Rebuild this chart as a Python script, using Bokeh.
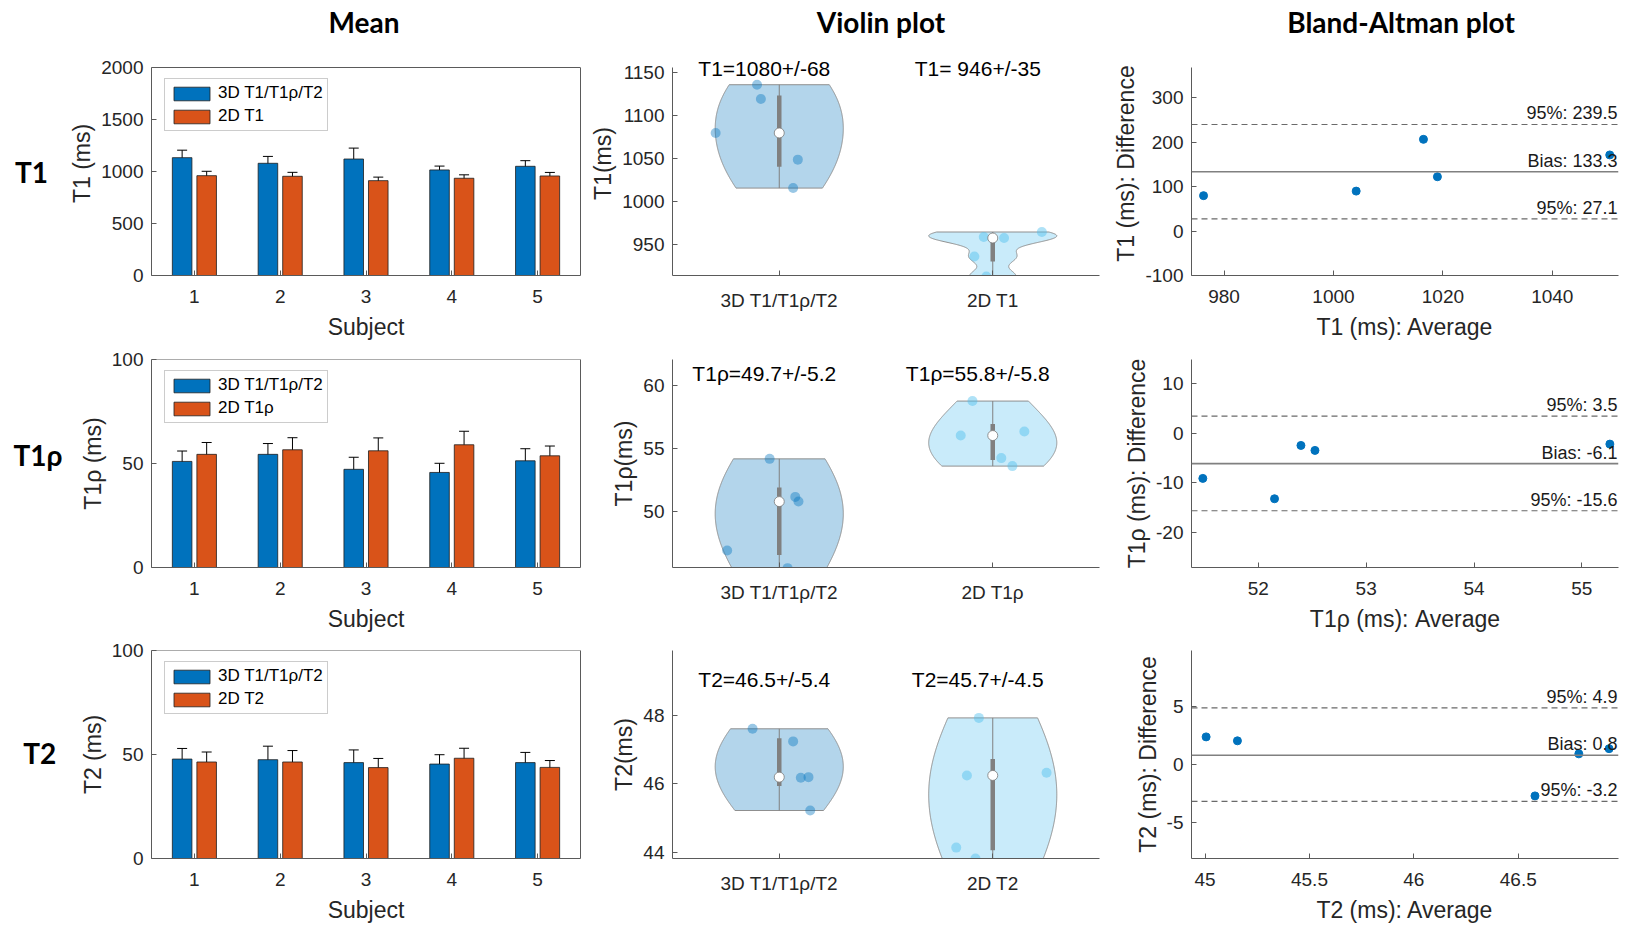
import numpy as np
from bokeh.plotting import figure
from bokeh.layouts import row, column
from bokeh.models import (Range1d, FixedTicker, Whisker, ColumnDataSource, Span,
                          Label, TeeHead, LinearAxis)
from bokeh.core.properties import value
from bokeh.embed import file_html
from bokeh.resources import INLINE

# ---------------- data ----------------
subjects = [1, 2, 3, 4, 5]
subject_tick_labels = ["1", "2", "3", "4", "5"]
row_names = ["T1", "T1ρ", "T2"]
col_titles = ["Mean", "Violin plot", "Bland-Altman plot"]
series_3d = "3D T1/T1ρ/T2"

# Mean panel (bars): per-subject mean and SD
t1_mean_3d = [1133, 1079, 1120, 1015, 1050]
t1_sd_3d = [72, 66, 105, 37, 54]
t1_mean_2d = [960, 954, 912, 935, 957]
t1_sd_2d = [42, 38, 34, 33, 34]
t1rho_mean_3d = [51.0, 54.4, 47.2, 45.7, 51.3]
t1rho_sd_3d = [5.0, 5.2, 5.8, 4.4, 5.8]
t1rho_mean_2d = [54.4, 56.6, 56.1, 59.0, 53.7]
t1rho_sd_2d = [5.7, 5.8, 6.2, 6.5, 4.7]
t2_mean_3d = [47.8, 47.5, 46.1, 45.4, 46.1]
t2_sd_3d = [5.1, 6.5, 6.1, 4.5, 4.9]
t2_mean_2d = [46.4, 46.4, 43.7, 48.2, 43.8]
t2_sd_2d = [4.8, 5.5, 4.4, 4.8, 3.3]

# Violin / Bland-Altman panels: per-subject values (paired)
t1_vals_3d = [1136, 1080, 1119.5, 1016, 1049]
t1_vals_2d = [965, 958, 913.4, 936.5, 959.3]
t1rho_vals_3d = [50.81, 54.18, 46.95, 45.56, 51.18]
t1rho_vals_2d = [54.24, 56.34, 56.02, 58.74, 53.61]
t2_vals_3d = [47.62, 47.25, 46.2, 45.22, 46.18]
t2_vals_2d = [46.25, 46.33, 43.81, 47.94, 44.13]

# horizontal jitter of the scatter points inside the violins (category units)
t1_jit_3d = [-0.104, -0.298, -0.086, 0.065, 0.087]
t1_jit_2d = [0.23, 0.053, -0.03, -0.086, -0.042]
t1rho_jit_3d = [0.09, -0.045, -0.244, 0.039, 0.075]
t1rho_jit_2d = [0.04, 0.148, -0.15, -0.095, 0.092]
t2_jit_3d = [-0.125, 0.065, 0.137, 0.145, 0.101]
t2_jit_2d = [-0.121, 0.252, -0.081, -0.065, -0.171]

t1_violin_text = ["T1=1080+/-68", "T1= 946+/-35"]
t1rho_violin_text = ["T1ρ=49.7+/-5.2", "T1ρ=55.8+/-5.8"]
t2_violin_text = ["T2=46.5+/-5.4", "T2=45.7+/-4.5"]
t1_violin_cats = ["3D T1/T1ρ/T2", "2D T1"]
t1rho_violin_cats = ["3D T1/T1ρ/T2", "2D T1ρ"]
t2_violin_cats = ["3D T1/T1ρ/T2", "2D T2"]

# Bland-Altman: upper LoA, bias, lower LoA
t1_ba_lines = [239.5, 133.3, 27.1]
t1_ba_labels = ["95%: 239.5", "Bias: 133.3", "95%: 27.1"]
t1rho_ba_lines = [3.5, -6.1, -15.6]
t1rho_ba_labels = ["95%: 3.5", "Bias: -6.1", "95%: -15.6"]
t2_ba_lines = [4.9, 0.8, -3.2]
t2_ba_labels = ["95%: 4.9", "Bias: 0.8", "95%: -3.2"]

# ticks
t1_bar_yticks = [0, 500, 1000, 1500, 2000]
pct_bar_yticks = [0, 50, 100]
t1_vio_yticks = [950, 1000, 1050, 1100, 1150]
t1rho_vio_yticks = [50, 55, 60]
t2_vio_yticks = [44, 46, 48]
t1_ba_xticks = [980, 1000, 1020, 1040]
t1_ba_xlabels = ["980", "1000", "1020", "1040"]
t1_ba_yticks = [-100, 0, 100, 200, 300]
t1_ba_ylabels = ["-100", "0", "100", "200", "300"]
t1rho_ba_xticks = [52, 53, 54, 55]
t1rho_ba_xlabels = ["52", "53", "54", "55"]
t1rho_ba_yticks = [-20, -10, 0, 10]
t1rho_ba_ylabels = ["-20", "-10", "0", "10"]
t2_ba_xticks = [45, 45.5, 46, 46.5]
t2_ba_xlabels = ["45", "45.5", "46", "46.5"]
t2_ba_yticks = [-5, 0, 5]
t2_ba_ylabels = ["-5", "0", "5"]

rows_cfg = [
    dict(label="T1", bar_ylabel="T1 (ms)", bar_y=(0, 2000), bar_yticks=t1_bar_yticks, leg2="2D T1",
         m3=t1_mean_3d, s3=t1_sd_3d, m2=t1_mean_2d, s2=t1_sd_2d,
         v3=t1_vals_3d, v2=t1_vals_2d, j3=t1_jit_3d, j2=t1_jit_2d,
         v_ylabel="T1(ms)", v_y=(914.5, 1156), v_yticks=t1_vio_yticks, v_text=t1_violin_text,
         v_cats=t1_violin_cats, text_frac=0.995,
         ba_x=(974.05, 1052.1), ba_y=(-100, 367.6), ba_xticks=t1_ba_xticks, ba_xlabels=t1_ba_xlabels,
         ba_yticks=t1_ba_yticks, ba_ylabels=t1_ba_ylabels, ba_lines=t1_ba_lines, ba_labels=t1_ba_labels,
         ba_xlabel="T1 (ms): Average", ba_ylabel="T1 (ms): Difference"),
    dict(label="T1ρ", bar_ylabel="T1ρ (ms)", bar_y=(0, 100), bar_yticks=pct_bar_yticks, leg2="2D T1ρ",
         m3=t1rho_mean_3d, s3=t1rho_sd_3d, m2=t1rho_mean_2d, s2=t1rho_sd_2d,
         v3=t1rho_vals_3d, v2=t1rho_vals_2d, j3=t1rho_jit_3d, j2=t1rho_jit_2d,
         v_ylabel="T1ρ(ms)", v_y=(45.61, 62.02), v_yticks=t1rho_vio_yticks, v_text=t1rho_violin_text,
         v_cats=t1rho_violin_cats, text_frac=0.931,
         ba_x=(51.38, 55.34), ba_y=(-27.04, 14.9), ba_xticks=t1rho_ba_xticks, ba_xlabels=t1rho_ba_xlabels,
         ba_yticks=t1rho_ba_yticks, ba_ylabels=t1rho_ba_ylabels, ba_lines=t1rho_ba_lines,
         ba_labels=t1rho_ba_labels,
         ba_xlabel="T1ρ (ms): Average", ba_ylabel="T1ρ (ms): Difference"),
    dict(label="T2", bar_ylabel="T2 (ms)", bar_y=(0, 100), bar_yticks=pct_bar_yticks, leg2="2D T2",
         m3=t2_mean_3d, s3=t2_sd_3d, m2=t2_mean_2d, s2=t2_sd_2d,
         v3=t2_vals_3d, v2=t2_vals_2d, j3=t2_jit_3d, j2=t2_jit_2d,
         v_ylabel="T2(ms)", v_y=(43.81, 49.92), v_yticks=t2_vio_yticks, v_text=t2_violin_text,
         v_cats=t2_violin_cats, text_frac=0.861,
         ba_x=(44.935, 46.98), ba_y=(-8.14, 9.87), ba_xticks=t2_ba_xticks, ba_xlabels=t2_ba_xlabels,
         ba_yticks=t2_ba_yticks, ba_ylabels=t2_ba_ylabels, ba_lines=t2_ba_lines, ba_labels=t2_ba_labels,
         ba_xlabel="T2 (ms): Average", ba_ylabel="T2 (ms): Difference"),
]

# ---------------- style / geometry ----------------
FONT = "Liberation Sans"
TFONT = "Lato"
TXT = "#262626"
AXL = "#5a5a5a"
BLUE = "#0072BD"
ORANGE = "#D95319"
VIO3 = "#B3D5EB"
VIO2 = "#C9EBFA"
PT2 = "#4DBEEE"

HEADER_H = 40
TITLE_Y = 21          # px from top of page
TOP = [27, 17, 16]    # px between row top and the axes box top
EXT = [16, 0, 0]      # extra drawing room above the axes box (for the violin texts)
FRAME_H = 208
BOT = [67, 67, 67]
LABEL_W = 64
BAR_L, BAR_F, BAR_R = 87, 429, 5
VIO_L, VIO_F, VIO_R = 87, 427, 6
BA_L, BA_F, BA_R = 86, 427, 2
LABEL_X = [31, 37.5, 39.3]
LABEL_DY = [0, 9, 2]  # px up from box centre
LEG_X, LEG_TOP, LEG_H = 13, 12, 52
BAR_OFF = 0.143
BAR_W = 0.228
VW = 0.3


def style(p):
    p.xgrid.visible = False
    p.ygrid.visible = False
    p.background_fill_color = "white"
    p.border_fill_color = "white"
    p.outline_line_color = None
    for ax in p.axis:
        ax.axis_line_color = AXL
        ax.axis_line_width = 1
        ax.major_tick_line_color = AXL
        ax.major_tick_in = 5
        ax.major_tick_out = 0
        ax.minor_tick_in = 0
        ax.minor_tick_out = 0
        ax.major_label_text_font = FONT
        ax.major_label_text_font_size = "19px"
        ax.major_label_text_color = TXT
        ax.axis_label_text_font = FONT
        ax.axis_label_text_font_size = "23px"
        ax.axis_label_text_font_style = "normal"
        ax.axis_label_text_color = TXT
        ax.major_label_standoff = 8
        ax.axis_label_standoff = 3
    for ax in p.xaxis:
        ax.major_label_standoff = 14
        ax.axis_label_standoff = 8


def mkfig(w, i, l, r, xr, yr):
    """figure whose axes box is FRAME_H tall; y range is stretched upwards by EXT[i] px"""
    y0, y1 = yr
    ytop = y1 + EXT[i] * (y1 - y0) / FRAME_H
    h = TOP[i] + FRAME_H + BOT[i]
    p = figure(width=w, height=h, min_border_left=l, min_border_right=r,
               min_border_top=TOP[i] - EXT[i], min_border_bottom=BOT[i],
               x_range=Range1d(*xr), y_range=Range1d(y0, ytop), title=None,
               output_backend="svg", toolbar_location=None)
    return p


def ksd(vals, grid):
    x = np.asarray(vals, float)
    n = len(x)
    sig = np.median(np.abs(x - np.median(x))) / 0.6745
    bw = sig * (4.0 / (3.0 * n)) ** 0.2
    return np.exp(-0.5 * ((grid[:, None] - x[None, :]) / bw) ** 2).sum(axis=1)


def bar_panel(cfg, i):
    y0, y1 = cfg["bar_y"]
    p = mkfig(BAR_L + BAR_F + BAR_R, i, BAR_L, BAR_R, (0.5, 5.5), (y0, y1))
    x = np.array(subjects, float)
    for xs, m, s, col, leg in [(x - BAR_OFF, cfg["m3"], cfg["s3"], BLUE, series_3d),
                               (x + BAR_OFF, cfg["m2"], cfg["s2"], ORANGE, cfg["leg2"])]:
        src = ColumnDataSource(dict(x=xs, top=m, upper=np.array(m) + np.array(s),
                                    lower=np.array(m) - np.array(s)))
        p.vbar(x="x", top="top", bottom=0, width=BAR_W, source=src, fill_color=col,
               line_color="#1e1e1e", line_width=0.8, legend_label=leg)
        p.add_layout(Whisker(base="x", upper="upper", lower="lower", source=src,
                             line_color="black", line_width=1,
                             upper_head=TeeHead(size=10, line_color="black", line_width=1),
                             lower_head=TeeHead(size=10, line_color="black", line_width=1)))
    p.xaxis.axis_label = "Subject"
    p.yaxis.axis_label = cfg["bar_ylabel"]
    p.xaxis.ticker = FixedTicker(ticks=subjects)
    p.xaxis.major_label_overrides = {s: l for s, l in zip(subjects, subject_tick_labels)}
    p.yaxis.ticker = FixedTicker(ticks=cfg["bar_yticks"])
    p.yaxis.bounds = (y0, y1)
    style(p)
    # box: right edge line and top edge line
    rax = LinearAxis(ticker=FixedTicker(ticks=[]), bounds=(y0, y1), axis_line_color=AXL,
                     major_label_standoff=0, major_tick_out=0, major_tick_in=0,
                     minor_tick_in=0, minor_tick_out=0)
    p.add_layout(rax, "right")
    p.add_layout(Span(location=y1, dimension="width", line_color=AXL, line_width=1))
    lg = p.legend[0]
    lg.location = (LEG_X, FRAME_H - LEG_TOP - LEG_H)
    lg.padding = 4
    lg.spacing = 3
    lg.glyph_width = 45
    lg.glyph_height = 17
    lg.label_height = 17
    lg.label_standoff = 4
    lg.label_text_font = FONT
    lg.label_text_font_size = "17px"
    lg.label_text_color = "black"
    lg.border_line_color = "#9a9a9a"
    lg.border_line_width = 1
    lg.background_fill_alpha = 1
    return p


def violin_panel(cfg, i):
    y0, y1 = cfg["v_y"]
    p = mkfig(VIO_L + VIO_F + VIO_R, i, VIO_L, VIO_R, (0.5, 2.5), (y0, y1))
    for pos, vals, jit, fill, ptc, palpha in [(1, cfg["v3"], cfg["j3"], VIO3, BLUE, 0.4),
                                              (2, cfg["v2"], cfg["j2"], VIO2, PT2, 0.45)]:
        v = np.asarray(vals, float)
        grid = np.linspace(v.min(), v.max(), 200)
        d = ksd(v, grid)
        hw = d / d.max() * VW
        xs = np.concatenate([pos + hw, (pos - hw)[::-1]])
        ys = np.concatenate([grid, grid[::-1]])
        p.patch(xs, ys, fill_color=fill, fill_alpha=1, line_color="#8f8f8f", line_width=1)
        p.scatter(x=pos + np.asarray(jit), y=v, size=10, fill_color=ptc, fill_alpha=palpha,
                  line_color=None)
        q1, med, q3 = np.quantile(v, [0.25, 0.5, 0.75], method="hazen")
        p.segment(x0=[pos], y0=[v.min()], x1=[pos], y1=[v.max()], line_color="#808080", line_width=1)
        p.segment(x0=[pos], y0=[q1], x1=[pos], y1=[q3], line_color="#808080", line_width=4.5)
        p.scatter(x=[pos], y=[med], size=10, fill_color="white", line_color="#7a7a7a", line_width=0.8)
    for pos, txt in zip([1, 2], cfg["v_text"]):
        p.add_layout(Label(x=pos - 0.07, y=y0 + cfg["text_frac"] * (y1 - y0), text=txt,
                           text_align="center", text_baseline="middle",
                           text_font=FONT, text_font_size="21px", text_color="black"))
    p.xaxis.ticker = FixedTicker(ticks=[1, 2])
    p.xaxis.major_label_overrides = {1: cfg["v_cats"][0], 2: cfg["v_cats"][1]}
    p.yaxis.ticker = FixedTicker(ticks=cfg["v_yticks"])
    p.yaxis.axis_label = cfg["v_ylabel"]
    p.yaxis.bounds = (y0, y1)
    style(p)
    return p


def ba_panel(cfg, i):
    y0, y1 = cfg["ba_y"]
    p = mkfig(BA_L + BA_F + BA_R, i, BA_L, BA_R, cfg["ba_x"], (y0, y1))
    a = np.asarray(cfg["v3"], float)
    b = np.asarray(cfg["v2"], float)
    avg = (a + b) / 2
    diff = a - b
    for k, (lv, lab) in enumerate(zip(cfg["ba_lines"], cfg["ba_labels"])):
        if k == 1:
            p.add_layout(Span(location=lv, dimension="width", line_color="#808080", line_width=1.6))
        else:
            p.add_layout(Span(location=lv, dimension="width", line_color="#6a6a6a", line_width=1.2,
                              line_dash="6 4"))
        p.add_layout(Label(x=cfg["ba_x"][1], y=lv, text=lab, text_align="right",
                           text_baseline="middle", x_offset=-1, y_offset=11,
                           text_font=FONT, text_font_size="18px", text_color="#1a1a1a"))
    p.scatter(x=avg, y=diff, size=8, fill_color=BLUE, line_color=BLUE)
    p.xaxis.ticker = FixedTicker(ticks=cfg["ba_xticks"])
    p.xaxis.major_label_overrides = {t: l for t, l in zip(cfg["ba_xticks"], cfg["ba_xlabels"])}
    p.yaxis.ticker = FixedTicker(ticks=cfg["ba_yticks"])
    p.yaxis.major_label_overrides = {t: l for t, l in zip(cfg["ba_yticks"], cfg["ba_ylabels"])}
    p.yaxis.bounds = (y0, y1)
    p.xaxis.axis_label = cfg["ba_xlabel"]
    p.yaxis.axis_label = cfg["ba_ylabel"]
    style(p)
    return p


def label_panel(cfg, i):
    h = TOP[i] + FRAME_H + BOT[i]
    p = figure(width=LABEL_W, height=h, min_border_left=0, min_border_right=0,
               min_border_top=TOP[i] - EXT[i], min_border_bottom=BOT[i],
               x_range=Range1d(0, LABEL_W), y_range=Range1d(0, FRAME_H + EXT[i]),
               x_axis_location=None, y_axis_location=None, title=None,
               output_backend="svg", toolbar_location=None)
    p.outline_line_color = None
    p.grid.visible = False
    p.text(x=[LABEL_X[i]], y=[FRAME_H / 2 + LABEL_DY[i]], text=[cfg["label"]], text_align="center",
           text_baseline="middle", text_font=value(TFONT), text_font_style="bold",
           text_font_size="28px", text_color="black")
    return p


total_w = LABEL_W + (BAR_L + BAR_F + BAR_R) + (VIO_L + VIO_F + VIO_R) + (BA_L + BA_F + BA_R)
hdr = figure(width=total_w, height=HEADER_H, min_border=0,
             x_range=Range1d(0, total_w), y_range=Range1d(0, HEADER_H),
             x_axis_location=None, y_axis_location=None, title=None,
             output_backend="svg", toolbar_location=None)
hdr.outline_line_color = None
hdr.grid.visible = False
c1 = LABEL_W + BAR_L + BAR_F / 2
c2 = LABEL_W + BAR_L + BAR_F + BAR_R + VIO_L + VIO_F / 2
c3 = LABEL_W + BAR_L + BAR_F + BAR_R + VIO_L + VIO_F + VIO_R + BA_L + BA_F / 2
hdr.text(x=[c1 - 2, c2 - 5, c3 - 4], y=[HEADER_H - TITLE_Y] * 3, text=col_titles, text_align="center",
         text_baseline="middle", text_font=value(TFONT), text_font_style="bold",
         text_font_size="28px", text_color="black")

rows = [hdr]
for i, cfg in enumerate(rows_cfg):
    rows.append(row(label_panel(cfg, i), bar_panel(cfg, i), violin_panel(cfg, i), ba_panel(cfg, i)))

layout = column(*rows)
open("out.html", "w").write(file_html(layout, INLINE))
